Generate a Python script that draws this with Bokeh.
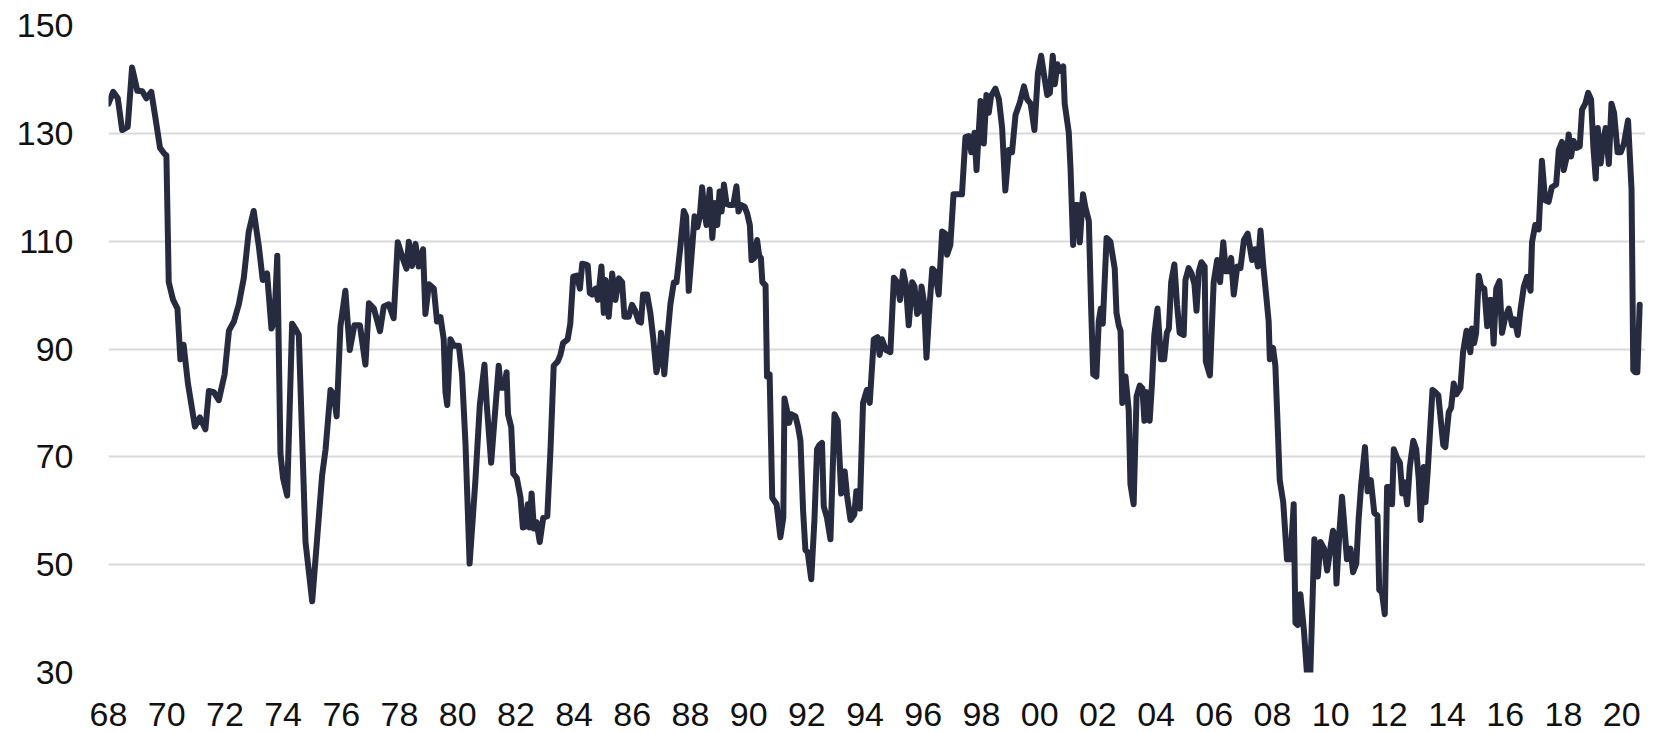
from bokeh.plotting import figure
from bokeh.models import FixedTicker, ColumnDataSource, Range1d
from bokeh.core.properties import value
from bokeh.embed import file_html
from bokeh.resources import INLINE

# time (fractional year) and index value
t = [1968.00, 1968.16, 1968.32, 1968.47, 1968.66, 1968.81, 1968.99, 1969.16, 1969.30, 1969.47,
     1969.62, 1969.77, 1969.92, 1969.99, 1970.07, 1970.22, 1970.37, 1970.47, 1970.58, 1970.73,
     1970.97, 1971.14, 1971.33, 1971.45, 1971.62, 1971.79, 1971.99, 1972.14, 1972.31, 1972.48,
     1972.65, 1972.82, 1972.99, 1973.17, 1973.30, 1973.45, 1973.60, 1973.70, 1973.80, 1973.91,
     1974.00, 1974.14, 1974.31, 1974.45, 1974.54, 1974.77, 1975.00, 1975.34, 1975.46, 1975.63,
     1975.74, 1975.84, 1975.97, 1976.14, 1976.29, 1976.45, 1976.64, 1976.83, 1976.95, 1977.12,
     1977.33, 1977.46, 1977.63, 1977.80, 1977.94, 1978.12, 1978.24, 1978.32, 1978.43, 1978.55,
     1978.66, 1978.81, 1978.89, 1979.01, 1979.18, 1979.29, 1979.41, 1979.52, 1979.58, 1979.64,
     1979.75, 1979.87, 1980.04, 1980.15, 1980.27, 1980.41, 1980.61, 1980.76, 1980.92, 1981.00,
     1981.15, 1981.41, 1981.48, 1981.60, 1981.68, 1981.73, 1981.84, 1981.91, 1982.03, 1982.16,
     1982.24, 1982.33, 1982.41, 1982.47, 1982.54, 1982.62, 1982.71, 1982.82, 1982.94, 1983.08,
     1983.19, 1983.30, 1983.44, 1983.53, 1983.62, 1983.78, 1983.87, 1983.97, 1984.10, 1984.20,
     1984.28, 1984.40, 1984.47, 1984.54, 1984.62, 1984.74, 1984.82, 1984.94, 1985.02, 1985.08,
     1985.19, 1985.31, 1985.42, 1985.54, 1985.65, 1985.73, 1985.88, 1985.99, 1986.10, 1986.22,
     1986.30, 1986.37, 1986.51, 1986.62, 1986.72, 1986.83, 1986.92, 1986.99, 1987.10, 1987.20,
     1987.31, 1987.43, 1987.52, 1987.66, 1987.77, 1987.85, 1987.94, 1988.06, 1988.14, 1988.24,
     1988.32, 1988.40, 1988.48, 1988.55, 1988.66, 1988.75, 1988.84, 1988.92, 1989.00, 1989.07,
     1989.15, 1989.24, 1989.35, 1989.47, 1989.58, 1989.65, 1989.74, 1989.86, 1989.95, 1990.04,
     1990.10, 1990.20, 1990.29, 1990.36, 1990.42, 1990.47, 1990.58, 1990.63, 1990.72, 1990.81,
     1990.96, 1991.09, 1991.19, 1991.23, 1991.33, 1991.39, 1991.46, 1991.61, 1991.70, 1991.78,
     1991.87, 1991.95, 1992.03, 1992.15, 1992.26, 1992.35, 1992.43, 1992.52, 1992.58, 1992.69,
     1992.81, 1992.95, 1993.06, 1993.18, 1993.30, 1993.38, 1993.50, 1993.63, 1993.70, 1993.82,
     1993.93, 1994.06, 1994.16, 1994.30, 1994.43, 1994.50, 1994.58, 1994.72, 1994.87, 1994.99,
     1995.10, 1995.20, 1995.31, 1995.40, 1995.50, 1995.62, 1995.70, 1995.79, 1995.88, 1995.94,
     1996.03, 1996.11, 1996.22, 1996.31, 1996.40, 1996.53, 1996.65, 1996.76, 1996.82, 1996.93,
     1997.04, 1997.21, 1997.33, 1997.45, 1997.56, 1997.65, 1997.76, 1997.83, 1997.97, 1998.08,
     1998.17, 1998.25, 1998.33, 1998.48, 1998.60, 1998.71, 1998.82, 1998.94, 1999.05, 1999.17,
     1999.32, 1999.46, 1999.57, 1999.69, 1999.82, 1999.94, 2000.05, 2000.14, 2000.26, 2000.35,
     2000.45, 2000.52, 2000.61, 2000.70, 2000.81, 2000.86, 2001.00, 2001.06, 2001.15, 2001.23,
     2001.31, 2001.38, 2001.49, 2001.57, 2001.69, 2001.77, 2001.84, 2001.95, 2002.03, 2002.10,
     2002.17, 2002.30, 2002.43, 2002.58, 2002.64, 2002.72, 2002.78, 2002.84, 2002.95, 2003.06,
     2003.12, 2003.23, 2003.33, 2003.44, 2003.53, 2003.60, 2003.68, 2003.78, 2003.86, 2003.94,
     2004.05, 2004.17, 2004.28, 2004.37, 2004.44, 2004.52, 2004.63, 2004.72, 2004.81, 2004.95,
     2005.01, 2005.12, 2005.22, 2005.32, 2005.39, 2005.47, 2005.56, 2005.67, 2005.71, 2005.85,
     2005.98, 2006.10, 2006.20, 2006.31, 2006.40, 2006.50, 2006.58, 2006.67, 2006.79, 2006.90,
     2007.02, 2007.15, 2007.30, 2007.40, 2007.50, 2007.59, 2007.68, 2007.80, 2007.87, 2007.91,
     2008.02, 2008.10, 2008.25, 2008.37, 2008.50, 2008.62, 2008.73, 2008.79, 2008.87, 2008.96,
     2009.08, 2009.19, 2009.30, 2009.44, 2009.56, 2009.65, 2009.77, 2009.88, 2009.99, 2010.08,
     2010.15, 2010.20, 2010.31, 2010.39, 2010.46, 2010.56, 2010.68, 2010.77, 2010.88, 2010.96,
     2011.05, 2011.18, 2011.27, 2011.38, 2011.50, 2011.61, 2011.67, 2011.76, 2011.86, 2011.94,
     2012.03, 2012.11, 2012.17, 2012.28, 2012.38, 2012.46, 2012.53, 2012.63, 2012.72, 2012.84,
     2012.94, 2013.03, 2013.09, 2013.20, 2013.26, 2013.34, 2013.41, 2013.50, 2013.60, 2013.70,
     2013.87, 2013.94, 2014.06, 2014.14, 2014.23, 2014.32, 2014.46, 2014.55, 2014.67, 2014.80,
     2014.86, 2014.93, 2015.00, 2015.09, 2015.17, 2015.28, 2015.38, 2015.46, 2015.53, 2015.60,
     2015.69, 2015.80, 2015.89, 2016.00, 2016.12, 2016.24, 2016.32, 2016.43, 2016.52, 2016.64,
     2016.75, 2016.87, 2016.92, 2017.03, 2017.15, 2017.26, 2017.37, 2017.49, 2017.60, 2017.75,
     2017.84, 2017.95, 2018.01, 2018.10, 2018.18, 2018.26, 2018.35, 2018.46, 2018.56, 2018.64,
     2018.75, 2018.85, 2018.95, 2019.03, 2019.11, 2019.18, 2019.28, 2019.37, 2019.45, 2019.56,
     2019.65, 2019.74, 2019.86, 2019.97, 2020.08, 2020.22, 2020.34, 2020.40, 2020.46, 2020.54,
     2020.62]

v = [135.5, 137.7, 136.5, 130.6, 131.2, 142.2, 137.9, 137.8, 136.5, 137.7,
     132.6, 127.3, 126.2, 125.9, 102.4, 99.1, 97.5, 88.1, 90.8, 83.6,
     75.6, 77.3, 75.1, 82.2, 82.0, 80.5, 85.3, 93.4, 95.1, 98.3,
     103.2, 111.8, 115.6, 108.9, 102.8, 104.0, 93.8, 95.1, 107.3, 70.6,
     66.0, 62.8, 94.7, 93.5, 92.6, 54.2, 43.2, 66.5, 71.4, 82.4,
     81.6, 77.5, 94.2, 100.8, 89.8, 94.4, 94.4, 87.1, 98.5, 97.5,
     93.3, 97.9, 98.3, 95.7, 109.8, 106.7, 104.9, 109.9, 105.4, 109.5,
     105.3, 108.5, 96.5, 102.0, 101.2, 95.1, 95.9, 91.8, 82.0, 79.6,
     91.8, 90.6, 90.6, 85.3, 72.2, 50.2, 65.7, 79.6, 87.1, 79.6,
     68.9, 86.9, 82.8, 82.8, 85.7, 77.9, 75.5, 66.9, 66.1, 62.4,
     56.9, 57.1, 61.2, 56.9, 63.2, 56.7, 57.9, 54.2, 58.7, 59.0,
     71.4, 86.9, 87.7, 88.9, 91.1, 91.8, 94.7, 103.4, 103.6, 101.2,
     105.8, 105.7, 105.5, 100.4, 100.1, 101.2, 99.1, 105.3, 96.7, 102.8,
     96.0, 104.0, 99.1, 103.1, 102.4, 96.0, 96.0, 98.2, 97.1, 95.1,
     94.9, 100.1, 100.1, 96.7, 92.0, 85.7, 88.0, 93.0, 85.3, 91.8,
     98.3, 102.4, 102.4, 109.3, 115.6, 114.6, 100.8, 108.9, 114.6, 112.6,
     114.6, 120.0, 115.5, 113.0, 119.6, 110.6, 117.1, 113.0, 119.2, 115.5,
     120.5, 116.9, 116.7, 116.7, 120.2, 115.5, 116.7, 116.4, 115.1, 113.0,
     106.5, 106.9, 110.2, 107.3, 106.9, 102.4, 101.8, 84.9, 85.3, 62.4,
     61.2, 55.1, 58.7, 80.8, 78.3, 76.3, 77.9, 77.5, 75.5, 73.0,
     60.0, 52.7, 52.3, 47.3, 58.3, 71.4, 72.2, 72.6, 60.8, 58.7,
     54.7, 77.9, 76.7, 63.2, 67.3, 62.8, 58.3, 59.3, 63.6, 60.4,
     80.0, 82.4, 80.0, 91.8, 92.2, 88.9, 91.8, 89.8, 89.4, 103.2,
     102.4, 99.1, 104.4, 102.0, 94.4, 102.4, 101.6, 96.5, 97.1, 101.6,
     98.5, 88.4, 98.3, 104.9, 104.4, 100.1, 111.8, 111.4, 107.5, 109.3,
     118.7, 118.7, 118.7, 129.3, 129.5, 126.5, 130.1, 123.2, 136.0, 128.1,
     137.1, 133.8, 136.9, 138.3, 136.3, 131.0, 119.4, 126.9, 126.5, 133.4,
     135.7, 138.7, 136.3, 135.5, 130.6, 141.2, 144.4, 141.2, 137.1, 137.5,
     144.4, 139.1, 142.8, 141.6, 142.4, 135.5, 130.2, 123.6, 109.3, 116.7,
     116.7, 109.8, 118.7, 116.3, 113.8, 97.5, 85.3, 84.9, 95.1, 97.5,
     94.7, 110.6, 109.9, 104.9, 96.7, 94.3, 93.4, 80.0, 84.9, 78.7,
     64.9, 61.2, 81.2, 83.2, 82.7, 76.7, 82.0, 76.7, 83.6, 92.6,
     97.5, 88.1, 88.1, 93.0, 93.8, 102.4, 105.7, 98.3, 93.0, 92.6,
     102.8, 105.0, 104.0, 102.0, 97.1, 104.4, 106.1, 105.3, 87.7, 85.1,
     102.4, 106.5, 102.4, 109.8, 104.4, 104.4, 106.9, 100.1, 105.3, 105.0,
     110.2, 111.4, 106.5, 108.5, 105.3, 112.0, 105.7, 99.1, 95.1, 88.1,
     90.2, 86.9, 65.7, 61.6, 51.0, 51.0, 61.2, 39.2, 38.8, 44.5,
     37.9, 29.5, 29.5, 54.7, 47.8, 54.2, 53.0, 48.9, 53.0, 56.3,
     55.5, 46.5, 56.7, 62.6, 57.9, 51.0, 53.0, 48.6, 50.2, 58.3,
     64.9, 71.8, 63.6, 65.7, 59.6, 59.1, 45.3, 44.9, 40.8, 64.4,
     64.4, 61.2, 71.4, 69.8, 68.9, 63.2, 65.3, 61.2, 68.1, 73.0,
     71.4, 65.7, 58.3, 68.1, 61.6, 67.7, 74.2, 82.4, 82.0, 81.4,
     72.2, 71.8, 78.3, 79.1, 83.6, 81.6, 82.8, 89.4, 93.4, 89.4,
     93.8, 91.1, 93.0, 103.6, 101.6, 101.2, 94.2, 99.1, 99.1, 91.0,
     101.2, 102.6, 93.0, 95.9, 97.5, 94.4, 95.5, 92.6, 97.1, 101.6,
     103.4, 100.8, 109.8, 113.0, 112.2, 124.9, 117.6, 117.3, 120.0, 120.5,
     126.9, 128.4, 123.2, 125.3, 129.8, 125.7, 128.6, 127.3, 127.6, 134.4,
     135.5, 137.5, 136.3, 127.3, 121.6, 131.0, 124.4, 128.7, 131.0, 124.3,
     135.5, 133.8, 126.5, 126.5, 128.1, 132.4, 119.6, 86.1, 85.7, 85.7,
     98.2]

x_ticks = list(range(1968, 2021, 2))
x_tick_labels = ["%02d" % (yr % 100) for yr in x_ticks]
y_ticks = [30, 50, 70, 90, 110, 130, 150]
Y_MIN, Y_MAX = 30, 150

src = ColumnDataSource(dict(t=t, v=v))

p = figure(width=1645, height=732, output_backend="svg", toolbar_location=None,
           x_range=Range1d(1968.0, 2020.82), y_range=Range1d(Y_MIN, Y_MAX),
           min_border_left=108, min_border_right=0, min_border_top=25,
           min_border_bottom=60)
p.outline_line_color = None
p.background_fill_color = "white"
p.border_fill_color = "white"

p.line("t", "v", source=src, line_color="#262B40", line_width=6,
       line_join="round", line_cap="round")

p.xgrid.grid_line_color = None
p.ygrid.grid_line_color = "#D9D9D9"
p.ygrid.grid_line_width = 2

# x axis: keep ticker for reference but draw its labels as text below the frame
p.xaxis.visible = False
p.xaxis.ticker = FixedTicker(ticks=x_ticks)

lab_src = ColumnDataSource(dict(x=x_ticks, y=[Y_MIN] * len(x_ticks), text=x_tick_labels))
p.text("x", "y", text="text", source=lab_src, y_offset=42,
       text_align="center", text_baseline="middle",
       text_font=value("Liberation Sans"), text_font_size="34px",
       text_color="#111111", level="overlay")

ax = p.yaxis[0]
ax.ticker = FixedTicker(ticks=y_ticks)
ax.axis_line_color = None
ax.major_tick_line_color = None
ax.minor_tick_line_color = None
ax.major_tick_out = 0
ax.major_tick_in = 0
ax.minor_tick_out = 0
ax.major_label_text_font = "Liberation Sans"
ax.major_label_text_font_size = "34px"
ax.major_label_text_color = "#111111"
ax.major_label_standoff = 35

open("out.html", "w").write(file_html(p, INLINE))
